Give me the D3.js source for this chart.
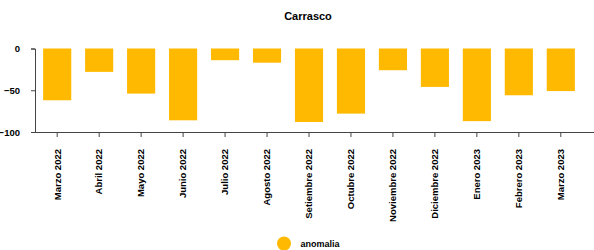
<!DOCTYPE html>
<html>
<head>
<meta charset="utf-8">
<script src="https://cdn.jsdelivr.net/npm/d3@7"></script>
<style>
  body { margin: 0; background: #fff; }
  svg { font-family: "Liberation Sans", Arial, sans-serif; }
</style>
</head>
<body>
<svg width="594" height="250"></svg>
<script>
// data
var months = ["Marzo 2022", "Abril 2022", "Mayo 2022", "Junio 2022", "Julio 2022",
    "Agosto 2022", "Setiembre 2022", "Octubre 2022", "Noviembre 2022",
    "Diciembre 2022", "Enero 2023", "Febrero 2023", "Marzo 2023"];
var anomalia = [-62, -28, -54, -86, -14, -17, -88, -78, -26, -46, -87, -56, -51];
var yTicks = [0, -50, -100];
var seriesName = "anomalia";
var chartTitle = "Carrasco";

var svg = d3.select("svg"),
    margin = {top: 48, left: 35, bottom: 118},
    height = +svg.attr("height");

var color = "#ffb900";

// scales
var x = d3.scaleBand()
    .domain(months)
    .range([margin.left + 1, margin.left + 1 + 42 * 13])
    .paddingInner(0.33)
    .paddingOuter(0.17);

var y = d3.scaleLinear()
    .domain([-100, 0])
    .range([132, 48.5]);

// title
svg.append("text")
    .attr("x", 308)
    .attr("y", 20)
    .attr("text-anchor", "middle")
    .style("font-size", "11px")
    .style("font-weight", "bold")
    .text(chartTitle);

// bars
svg.append("g")
    .selectAll("rect")
    .data(anomalia)
    .enter().append("rect")
    .attr("x", function (d, i) { return x(months[i]); })
    .attr("y", y(0))
    .attr("width", x.bandwidth())
    .attr("height", function (d) { return y(d) - y(0); })
    .attr("fill", color);

// y axis
var yAxis = svg.append("g")
    .attr("transform", "translate(" + margin.left + ",0)")
    .call(d3.axisLeft(y).tickValues(yTicks).tickSize(4).tickPadding(11));

// x axis
var xAxis = svg.append("g")
    .attr("transform", "translate(0," + y(-100) + ")")
    .call(d3.axisBottom(x).tickSize(5).tickSizeOuter(0));

xAxis.select(".domain")
    .attr("d", "M" + margin.left + ",0.5H594");

xAxis.selectAll("text")
    .attr("transform", "rotate(-90)")
    .attr("text-anchor", "end")
    .attr("x", -17)
    .attr("y", 0)
    .attr("dy", "0.35em");

svg.selectAll(".tick text")
    .style("font-size", "9.5px")
    .style("font-weight", "bold")
    .attr("fill", "#000");
svg.selectAll(".domain, .tick line").attr("stroke", "#444");

// legend
var legend = svg.append("g");
legend.append("circle")
    .attr("cx", 284)
    .attr("cy", 243.5)
    .attr("r", 7)
    .attr("fill", color);
legend.append("text")
    .attr("x", 300.5)
    .attr("y", 247)
    .style("font-size", "9px")
    .style("font-weight", "bold")
    .text(seriesName);
</script>
</body>
</html>
